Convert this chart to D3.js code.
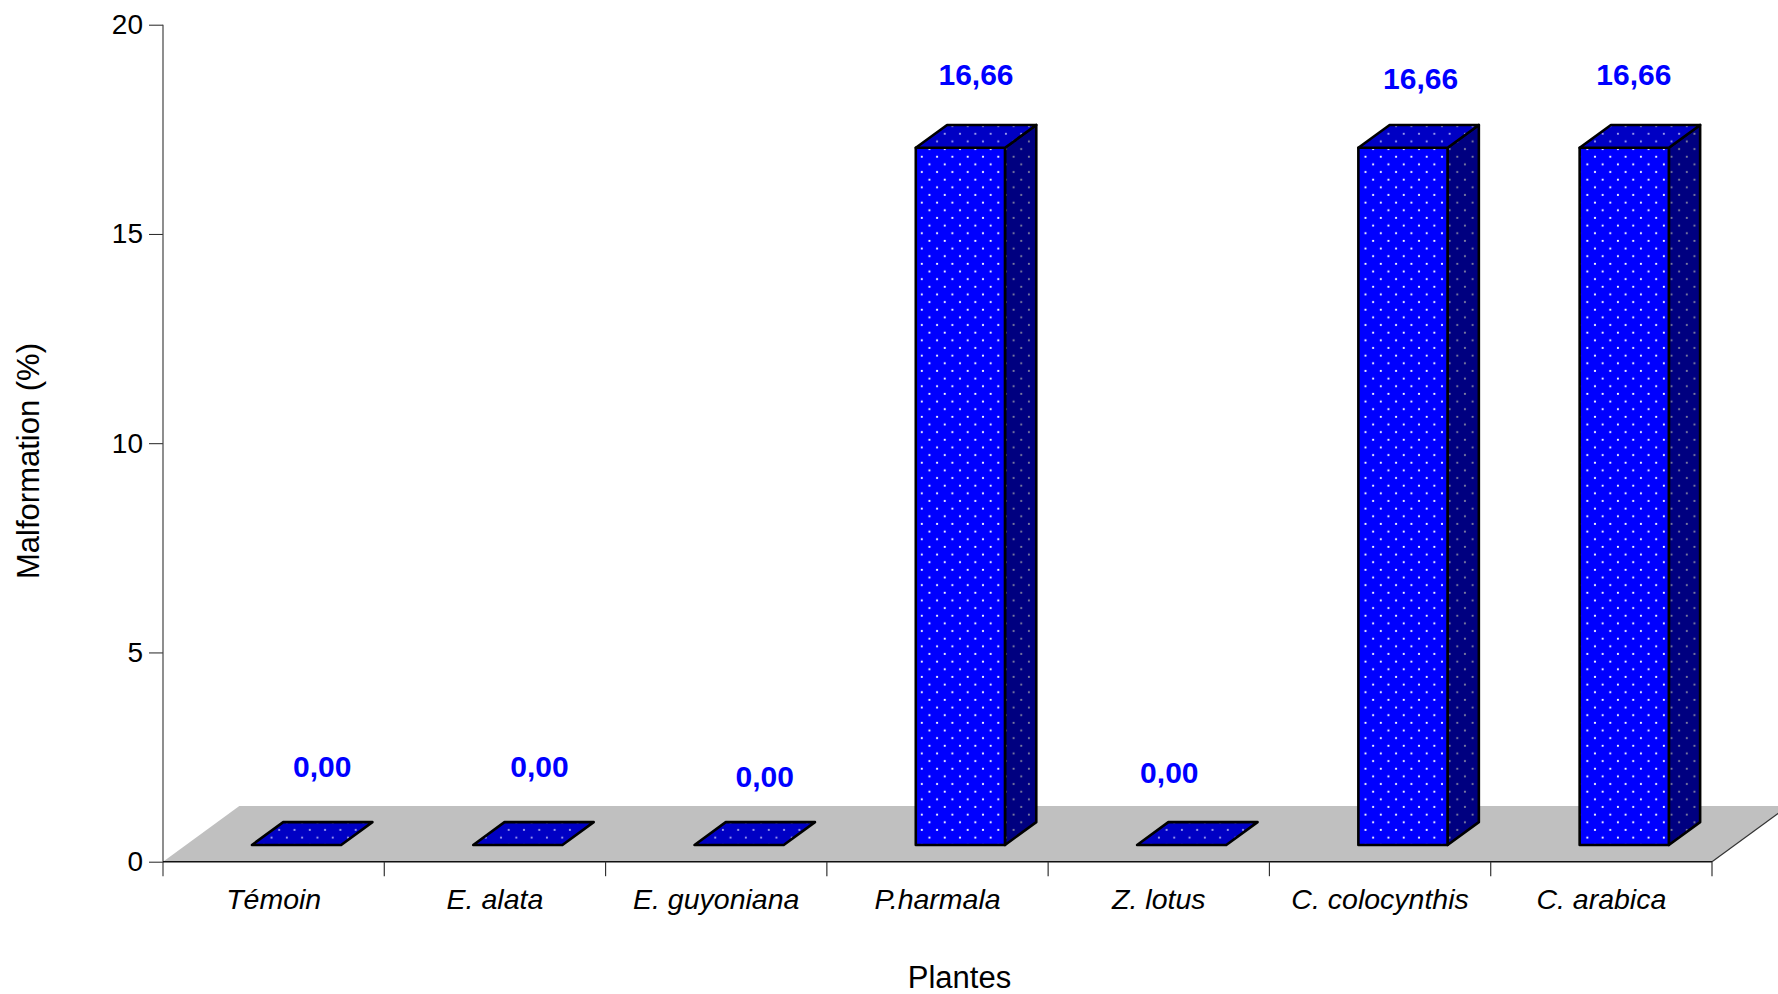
<!DOCTYPE html>
<html>
<head>
<meta charset="utf-8">
<script src="https://cdn.jsdelivr.net/npm/d3@7"></script>
<style>
    body { margin: 0; background: #fff; }
    svg { display: block; font-family: 'Liberation Sans', Arial, sans-serif; }
    .axis text { fill: #000; }
</style>
</head>
<body>
<div id="vis"></div>
<script>
'use strict';

//data
var plantes = ['Témoin', 'E. alata', 'E. guyoniana', 'P.harmala', 'Z. lotus', 'C. colocynthis', 'C. arabica'];
var malformation = [0, 0, 0, 16.66, 0, 16.66, 16.66];
var valueLabels = ['0,00', '0,00', '0,00', '16,66', '0,00', '16,66', '16,66'];
var yTicks = [0, 5, 10, 15, 20];

//hand placed label nudges of the original (x shift, lift above bar top)
var labelShift = [10, 6, 10, 0, -28, 2, -6];
var labelLift = [45, 45, 35, 40, 39, 36, 40];

//layout
var W = 1778, H = 994;
var plot = { left: 163, right: 1712, top: 24.7, bottom: 861.7 };
var floorDepth = { x: 76.3, y: 55.7 };
var barFront = 0.3, barDepth = 0.41;
var barHalf = 44.6;

var x = d3.scaleBand().domain(plantes).range([plot.left, plot.right]);
var y = d3.scaleLinear().domain([0, 20]).range([plot.bottom, plot.top]);

var svg = d3.select('#vis').append('svg')
    .attr('width', W)
    .attr('height', H);

//dotted fills
var defs = svg.append('defs');
function dots(id, bg, dotColor) {
    var p = defs.append('pattern')
        .attr('id', id)
        .attr('patternUnits', 'userSpaceOnUse')
        .attr('width', 15.3)
        .attr('height', 15.3);
    p.append('rect').attr('width', 15.3).attr('height', 15.3).attr('fill', bg);
    [[3.8, 3.8], [11.45, 11.45]].forEach(function (c) {
        p.append('circle').attr('cx', c[0]).attr('cy', c[1]).attr('r', 1.1).attr('fill', dotColor);
    });
}
dots('dot-front', '#0000ff', '#ffffff');
dots('dot-top', '#0000c4', '#a0a0f0');
dots('dot-side', '#000080', '#8080a0');

//floor
svg.append('polygon')
    .attr('points', [
        [plot.left, plot.bottom],
        [plot.left + floorDepth.x, plot.bottom - floorDepth.y],
        [plot.right + floorDepth.x, plot.bottom - floorDepth.y],
        [plot.right, plot.bottom]
    ].join(' '))
    .attr('fill', '#c0c0c0');
svg.append('line')
    .attr('x1', plot.right).attr('y1', plot.bottom)
    .attr('x2', plot.right + floorDepth.x).attr('y2', plot.bottom - floorDepth.y)
    .attr('stroke', '#333').attr('stroke-width', 1.2);

//bars
var ox = barDepth * floorDepth.x, oy = barDepth * floorDepth.y;
var bars = svg.selectAll('.bar')
    .data(plantes.map(function (p, i) { return { name: p, value: malformation[i], i: i }; }))
    .enter().append('g')
    .attr('class', 'bar');

function geom(d) {
    var cx = x(d.name) + x.bandwidth() / 2 + barFront * floorDepth.x;
    var yb = y(0) - barFront * floorDepth.y;
    var yt = yb - (y(0) - y(d.value));
    return { x0: cx - barHalf, x1: cx + barHalf, yb: yb, yt: yt };
}

bars.each(function (d) {
    var g = d3.select(this), b = geom(d);
    var style = function (sel, fill) {
        sel.attr('fill', 'url(#' + fill + ')')
            .attr('stroke', '#000')
            .attr('stroke-width', 2.6)
            .attr('stroke-linejoin', 'round');
    };
    if (d.value > 0) {
        g.append('polygon')
            .attr('points', [[b.x1, b.yt], [b.x1 + ox, b.yt - oy], [b.x1 + ox, b.yb - oy], [b.x1, b.yb]].join(' '))
            .call(style, 'dot-side');
        g.append('rect')
            .attr('x', b.x0).attr('y', b.yt)
            .attr('width', b.x1 - b.x0).attr('height', b.yb - b.yt)
            .call(style, 'dot-front');
    }
    g.append('polygon')
        .attr('points', [[b.x0, b.yt], [b.x0 + ox, b.yt - oy], [b.x1 + ox, b.yt - oy], [b.x1, b.yt]].join(' '))
        .call(style, 'dot-top');
});

//value labels
bars.append('text')
    .attr('x', function (d) { var b = geom(d); return (b.x0 + b.x1) / 2 + ox / 2 + labelShift[d.i]; })
    .attr('y', function (d) { return geom(d).yt - oy - labelLift[d.i]; })
    .attr('text-anchor', 'middle')
    .attr('fill', '#0000ff')
    .style('font-weight', 'bold')
    .style('font-size', '30px')
    .text(function (d) { return valueLabels[d.i]; });

//y axis
var yAxis = svg.append('g')
    .attr('class', 'axis')
    .attr('transform', 'translate(' + plot.left + ', 0)')
    .call(d3.axisLeft(y).tickValues(yTicks).tickSize(14).tickSizeOuter(0).tickPadding(6));
yAxis.select('.domain').remove();
yAxis.selectAll('line').attr('stroke', '#222');
yAxis.selectAll('text').style('font-size', '28px');
svg.append('line')
    .attr('x1', plot.left).attr('x2', plot.left)
    .attr('y1', plot.top).attr('y2', plot.bottom + 14.5)
    .attr('stroke', '#444').attr('stroke-width', 1.2);

//x axis
var xAxis = svg.append('g')
    .attr('class', 'axis')
    .attr('transform', 'translate(0, ' + plot.bottom + ')')
    .call(d3.axisBottom(x).tickSize(0).tickPadding(27));
xAxis.select('.domain').remove();
xAxis.selectAll('text').style('font-size', '28.5px').style('font-style', 'italic');
svg.append('line')
    .attr('x1', plot.left).attr('x2', plot.right)
    .attr('y1', plot.bottom).attr('y2', plot.bottom)
    .attr('stroke', '#111').attr('stroke-width', 1.6);
svg.selectAll('.x-sep')
    .data(plantes.map(function (p) { return x(p); }).concat([plot.right]).slice(1))
    .enter().append('line')
    .attr('class', 'x-sep')
    .attr('x1', function (d) { return d; }).attr('x2', function (d) { return d; })
    .attr('y1', plot.bottom).attr('y2', plot.bottom + 14.5)
    .attr('stroke', '#333').attr('stroke-width', 1.2);

//axis titles
svg.append('text')
    .attr('x', (plot.left + plot.right) / 2 + 22)
    .attr('y', 988)
    .attr('text-anchor', 'middle')
    .style('font-size', '31px')
    .text('Plantes');
svg.append('text')
    .attr('transform', 'translate(39, 461) rotate(-90)')
    .attr('text-anchor', 'middle')
    .style('font-size', '31px')
    .text('Malformation (%)');
</script>
</body>
</html>
